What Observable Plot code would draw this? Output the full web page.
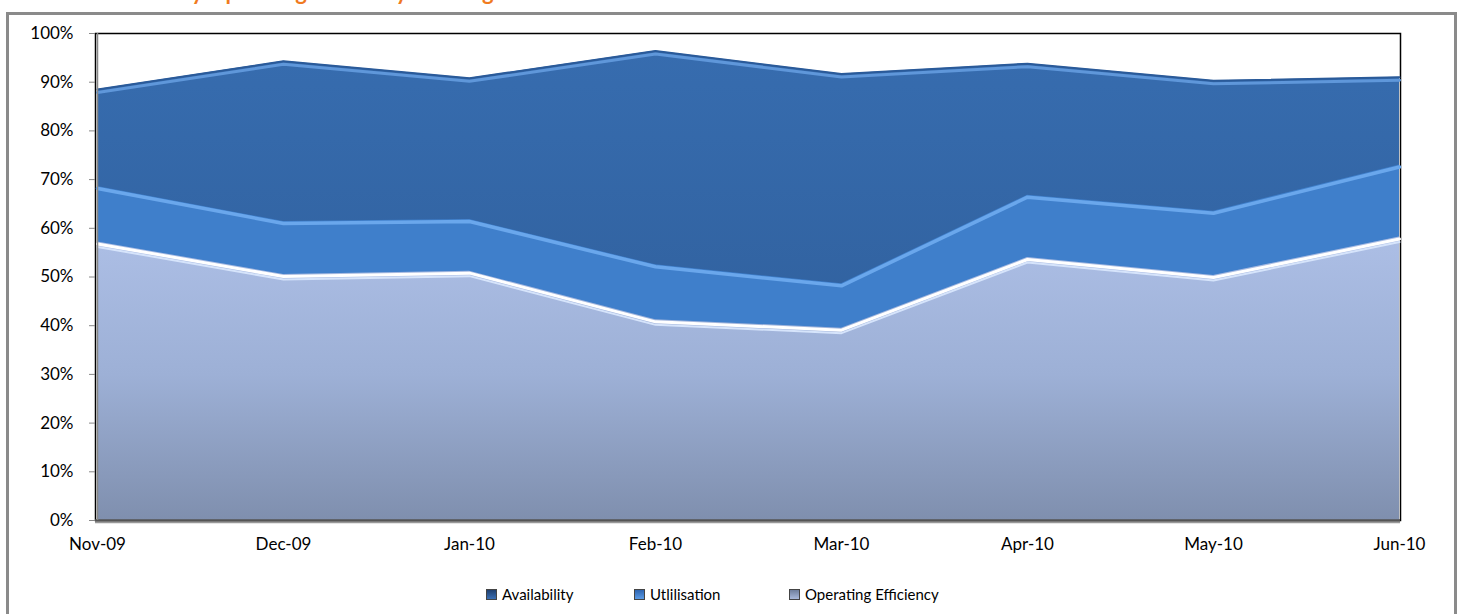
<!DOCTYPE html>
<html>
<head>
<meta charset="utf-8">
<script src="https://cdn.jsdelivr.net/npm/d3@7"></script>
<script src="https://cdn.jsdelivr.net/npm/@observablehq/plot@0.6"></script>
<style>
  html, body { margin: 0; padding: 0; background: #fff; overflow: hidden; }
  body { width: 1466px; height: 614px; position: relative; font-family: Lato, "Open Sans", sans-serif; }
  #title { position: absolute; left: 120px; top: -22px; font: bold 22px Lato, sans-serif; color: #f07b1f; white-space: nowrap; }
  #border { position: absolute; left: 6px; top: 12px; width: 1451px; height: 640px; border: 3px solid #8a8a8a; box-sizing: border-box; }
  #chart { position: absolute; left: 0; top: 0; }
  #legend { position: absolute; top: 585px; left: 0; width: 1466px; height: 20px; font-size: 15px; color: #000; }
  .item { position: absolute; display: flex; align-items: center; white-space: nowrap; }
  .sw { width: 11px; height: 11px; margin-right: 5px; box-sizing: border-box; }
</style>
</head>
<body>
<div id="title">Monthly Operating Efficiency Tracking</div>
<div id="border"></div>
<div id="chart"></div>
<div id="legend"></div>
<script>
const months = ["Nov-09", "Dec-09", "Jan-10", "Feb-10", "Mar-10", "Apr-10", "May-10", "Jun-10"];
const availability = [88.5, 94.3, 90.8, 96.4, 91.7, 93.8, 90.3, 91.0];
const utilisation = [68.6, 61.4, 61.8, 52.5, 48.6, 66.8, 63.5, 73.0];
const operatingEfficiency = [57.2, 50.5, 51.2, 41.2, 39.5, 54.0, 50.3, 58.2];
const seriesNames = ["Availability", "Utlilisation", "Operating Efficiency"];
const yTicks = [0, 10, 20, 30, 40, 50, 60, 70, 80, 90, 100];

const rows = (vals) => months.map((m, i) => ({month: m, value: vals[i]}));
const A = rows(availability), U = rows(utilisation), O = rows(operatingEfficiency);

const plot = Plot.plot({
  width: 1466,
  height: 580,
  marginLeft: 95,
  marginRight: 66,
  marginTop: 33,
  marginBottom: 60,
  style: {background: "transparent", fontFamily: "Lato, 'Open Sans', sans-serif", fontSize: "17px", color: "#000"},
  x: {type: "point", domain: months, padding: 0, label: null},
  y: {domain: [0, 100], label: null},
  marks: [
    Plot.frame({stroke: "#000", strokeWidth: 1.5}),
    Plot.areaY(A, {x: "month", y: "value", fill: "url(#gA)"}),
    Plot.lineY(A, {x: "month", y: "value", stroke: "#2a5a99", strokeWidth: 2}),
    Plot.lineY(A, {x: "month", y: "value", stroke: "#5f97da", strokeWidth: 3, dy: 3}),
    Plot.areaY(U, {x: "month", y: "value", fill: "#3f7fcb"}),
    Plot.lineY(U, {x: "month", y: "value", stroke: "#6aa7ec", strokeWidth: 3.5, dy: 2}),
    Plot.areaY(O, {x: "month", y: "value", fill: "url(#gO)"}),
    Plot.lineY(O, {x: "month", y: "value", stroke: "#ffffff", strokeWidth: 3, dy: 2}),
    Plot.lineY(O, {x: "month", y: "value", stroke: "#d6e4fb", strokeWidth: 2, dy: 5}),
    Plot.ruleY([0], {stroke: "#555", strokeWidth: 2.5}),
    Plot.ruleY([0], {stroke: "#999", strokeWidth: 1.5, dy: 2}),
    Plot.axisY({ticks: yTicks, tickFormat: d => d + "%", tickSize: 6, tickPadding: 16, stroke: "#888", fontSize: 17}),
    Plot.ruleX([months[0]], {stroke: "#888", strokeWidth: 1.5}),
    Plot.axisX({tickSize: 0, tickPadding: 17, fontSize: 17})
  ]
});

const svg = d3.select(plot);
const defs = svg.insert("defs", ":first-child");
const gA = defs.append("linearGradient").attr("id", "gA").attr("gradientUnits", "userSpaceOnUse")
  .attr("x1", 0).attr("x2", 0).attr("y1", 33).attr("y2", 520);
gA.append("stop").attr("offset", "0").attr("stop-color", "#376db0");
gA.append("stop").attr("offset", "1").attr("stop-color", "#2d5a94");
const gO = defs.append("linearGradient").attr("id", "gO").attr("gradientUnits", "userSpaceOnUse")
  .attr("x1", 0).attr("x2", 0).attr("y1", 230).attr("y2", 520);
gO.append("stop").attr("offset", "0").attr("stop-color", "#adbfe6");
gO.append("stop").attr("offset", "0.5").attr("stop-color", "#9db0d6");
gO.append("stop").attr("offset", "1").attr("stop-color", "#7f8fae");
document.getElementById("chart").appendChild(plot);

const legendItems = [
  {name: seriesNames[0], color: "linear-gradient(#1f3f6e, #3a6fb5)", left: 486},
  {name: seriesNames[1], color: "linear-gradient(#2d64b0, #5b9be6)", left: 634},
  {name: seriesNames[2], color: "linear-gradient(#6e7e9c, #a9b9da)", left: 789}
];
const lg = document.getElementById("legend");
legendItems.forEach(it => {
  const d = document.createElement("div");
  d.className = "item";
  d.style.left = it.left + "px";
  d.innerHTML = `<span class="sw" style="background:${it.color};border:1px solid #444"></span><span>${it.name}</span>`;
  lg.appendChild(d);
});
</script>
</body>
</html>
